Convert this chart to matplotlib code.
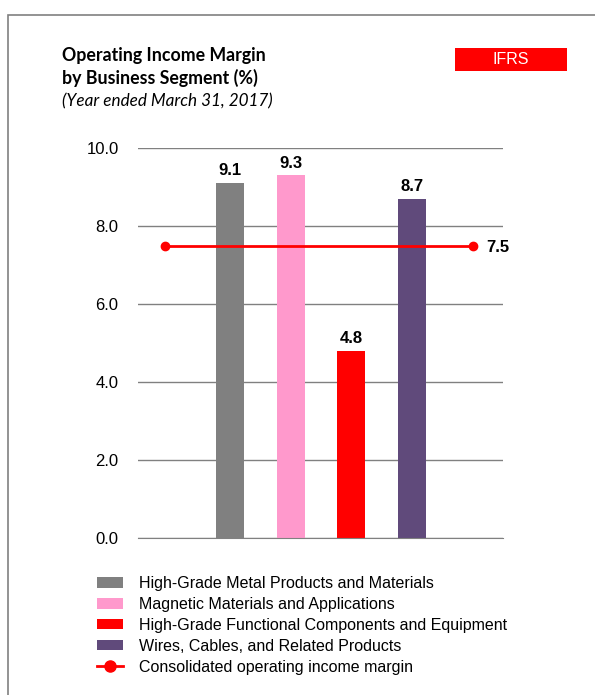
import matplotlib
matplotlib.use('Agg')
from matplotlib import pyplot as plt
from matplotlib.patches import Rectangle, Patch
from matplotlib.lines import Line2D

segments = ['High-Grade Metal Products and Materials',
            'Magnetic Materials and Applications',
            'High-Grade Functional Components and Equipment',
            'Wires, Cables, and Related Products']
margins = [9.1, 9.3, 4.8, 8.7]
consolidated = 7.5
consolidated_label = 'Consolidated operating income margin'
yticks = [0.0, 2.0, 4.0, 6.0, 8.0, 10.0]
colors = ['#808080', '#FF99CC', '#FF0000', '#604A7B']

W, H = 595, 695
plt.rcParams['font.family'] = ['Liberation Sans', 'DejaVu Sans']

fig = plt.figure(figsize=(W / 100, H / 100), dpi=100)


def fx(px):
    return px / W


def fy(py):
    return 1 - py / H


# outer frame (clipped on right and bottom)
fig.patches.append(Rectangle((fx(8), -0.1), 1.2, fy(15) + 0.1, transform=fig.transFigure,
                             fill=False, edgecolor='#808080', linewidth=1.2))

# title block
title_font = ['Lato', 'DejaVu Sans']
fig.text(fx(62), fy(55), 'Operating Income Margin', fontsize=12.8, fontweight='bold',
         family=title_font, va='center', ha='left')
fig.text(fx(62), fy(78), 'by Business Segment (%)', fontsize=12.8, fontweight='bold',
         family=title_font, va='center', ha='left')
fig.text(fx(62), fy(101), '(Year ended March 31, 2017)', fontsize=12.3, style='italic',
         family=title_font, va='center', ha='left')

# IFRS badge
fig.patches.append(Rectangle((fx(455), fy(71)), fx(567) - fx(455), fy(48) - fy(71),
                             transform=fig.transFigure, facecolor='#FF0000', edgecolor='none'))
fig.text(fx(511), fy(60), 'IFRS', color='white', fontsize=11.5, ha='center', va='center')

ax = fig.add_axes([fx(138), fy(538), fx(503) - fx(138), fy(148) - fy(538)])
x = list(range(len(segments)))
ax.bar(x, margins, width=0.46, color=colors, zorder=2)
for xi, v in zip(x, margins):
    ax.text(xi, v + 0.12, f'{v:.1f}', ha='center', va='bottom', fontsize=12, fontweight='bold')

line_x = [-1.07, len(segments)]
ax.plot(line_x, [consolidated] * 2, color='#FF0000', linewidth=2, marker='o',
        markersize=6, zorder=3, clip_on=False)
ax.text(line_x[1] + 0.22, consolidated - 0.05, f'{consolidated:.1f}', ha='left', va='center',
        fontsize=12, fontweight='bold')

ax.set_xlim(-1.52, 4.5)
ax.set_ylim(0, 10)
ax.set_yticks(yticks)
ax.set_yticklabels([f'{t:.1f}' for t in yticks], fontsize=12)
ax.yaxis.grid(True, color='#808080', linewidth=1)
ax.set_xticks([])
ax.tick_params(axis='y', length=0, pad=14)
for s in ax.spines.values():
    s.set_visible(False)
ax.spines['bottom'].set_visible(True)
ax.spines['bottom'].set_color('#808080')

handles = [Patch(facecolor=c, edgecolor='none') for c in colors]
handles.append(Line2D([0], [0], color='#FF0000', linewidth=2, marker='o', markersize=8))
fig.legend(handles, segments + [consolidated_label], loc='upper left',
           bbox_to_anchor=(fx(97), fy(576)), frameon=False, fontsize=11.5,
           handlelength=1.65, handleheight=0.63, labelspacing=0.37, handletextpad=1.0,
           borderaxespad=0, borderpad=0)

fig.savefig('out.png', dpi=100)
